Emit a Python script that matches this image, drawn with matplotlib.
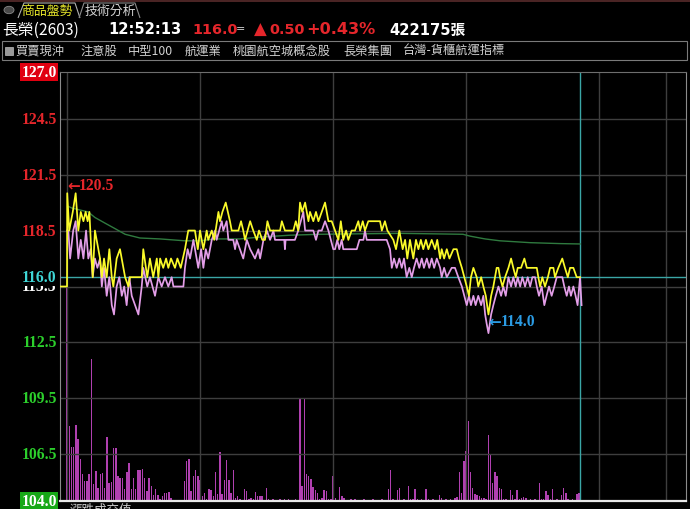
import matplotlib.pyplot as plt
from matplotlib.patches import Rectangle, Polygon, Circle

W, H = 690, 510

# intraday minute data, t = minutes after 09:00
hi_t = [-3.2, 0.0, 0.1, 1.0, 2.6, 3.9, 5.1, 6.2, 7.4, 8.4, 9.3, 10.1, 11.1, 11.6, 12.6, 14.1,
        14.9, 15.7, 16.7, 17.9, 19.1, 20.2, 20.9, 22.4, 23.9, 25.4, 26.2, 27.7, 28.4, 33.7,
        34.4, 36.2, 37.4, 38.9, 40.5, 41.2, 42.0, 43.4, 44.7, 45.7, 46.9, 48.7, 49.8, 51.3,
        53.2, 54.7, 57.7, 59.0, 60.0, 61.5, 63.0, 63.7, 65.3, 66.4, 68.3, 69.0, 70.1, 71.6,
        73.5, 74.3, 77.3, 78.5, 79.5, 80.3, 82.6, 84.0, 85.6, 86.6, 88.1, 89.3, 90.4, 91.6,
        96.1, 96.9, 98.3, 102.1, 103.2, 104.3, 105.1, 106.1, 107.4, 108.9, 109.6, 111.1,
        112.3, 113.4, 114.9, 116.4, 117.9, 119.4, 122.4, 123.5, 124.6, 125.9, 126.9, 128.4,
        129.9, 131.4, 132.2, 133.4, 134.4, 135.9, 141.2, 142.0, 143.4, 144.5, 147.2, 148.4,
        149.9, 151.4, 152.5, 153.5, 154.7, 156.2, 157.4, 158.5, 159.6, 160.7, 161.9, 163.0,
        164.5, 166.0, 167.0, 168.3, 169.0, 170.1, 171.3, 172.5, 174.3, 175.8, 176.8, 178.1,
        179.2, 180.3, 181.3, 182.2, 183.3, 184.8, 185.5, 186.8, 187.8, 188.9, 190.1, 191.3,
        192.3, 193.8, 194.6, 195.3, 196.4, 197.6, 199.1, 200.3, 201.3, 202.4, 203.3, 204.8,
        206.3, 207.4, 211.9, 212.6, 213.4, 214.4, 215.6, 216.9, 217.9, 219.4, 220.1, 221.6,
        223.4, 224.6, 225.9, 226.9, 228.4, 229.9, 231.4]
hi_p = [115.5, 115.5, 120.5, 118.5, 119.5, 120.5, 118.5, 119.5, 119.0, 119.5, 119.0, 119.5, 117.0, 116.0, 118.5, 117.5,
        117.0, 116.0, 117.0, 116.0, 117.5, 116.0, 115.5, 117.0, 117.5, 116.5, 116.0, 115.5, 116.0, 116.0,
        117.5, 116.0, 117.0, 116.0, 117.0, 116.0, 117.0, 116.5, 117.0, 116.5, 117.0, 116.5, 117.0, 116.5,
        117.5, 118.5, 118.5, 117.5, 118.5, 117.5, 118.5, 118.0, 118.5, 118.0, 119.5, 119.0, 119.5, 120.0,
        119.0, 118.5, 118.5, 119.0, 118.5, 118.0, 119.0, 118.5, 118.0, 118.5, 118.0, 118.0, 119.0, 118.5,
        118.5, 119.0, 118.5, 118.5, 119.0, 118.5, 120.0, 119.5, 120.0, 119.0, 119.5, 119.0,
        119.5, 119.0, 119.5, 120.0, 119.0, 119.0, 118.0, 119.0, 118.0, 118.5, 118.0, 118.5,
        118.5, 119.0, 118.5, 119.0, 118.5, 119.0, 119.0, 118.5, 119.0, 118.5, 118.0, 117.5,
        118.5, 117.5, 118.0, 117.0, 118.0, 117.0, 118.0, 117.5, 118.0, 117.5, 118.0, 117.5,
        118.0, 117.5, 118.0, 117.0, 117.5, 117.0, 117.5, 117.0, 117.5, 117.5, 117.0, 116.5,
        116.0, 115.5, 115.0, 116.0, 116.5, 116.0, 115.5, 116.0, 115.5, 115.0, 114.0, 115.0,
        115.5, 116.5, 116.5, 116.0, 115.5, 116.0, 116.5, 117.0, 116.5, 116.0, 116.5, 116.5,
        117.0, 116.5, 116.5, 116.0, 115.5, 116.0, 115.5, 116.0, 116.5, 116.5, 116.0, 116.5,
        117.0, 116.5, 116.0, 116.5, 116.5, 116.0, 116.0]

lo_t = [0.1, 0.6, 1.4, 2.8, 3.9, 5.1, 6.2, 7.4, 8.6, 9.6, 10.7, 11.6, 12.6, 13.7, 14.9, 15.7,
        16.7, 17.9, 19.1, 20.2, 21.2, 22.4, 23.6, 24.7, 25.8, 26.9, 28.1, 29.2, 30.7, 32.2,
        33.7, 34.4, 36.2, 37.4, 39.7, 41.2, 42.7, 44.2, 45.7, 47.2, 48.0, 52.5, 53.2, 54.4,
        55.5, 57.0, 58.5, 59.2, 60.5, 61.5, 62.6, 63.7, 65.3, 66.8, 67.5, 69.8, 70.5, 72.0,
        72.8, 75.0, 75.8, 76.5, 78.0, 79.5, 81.1, 82.6, 84.8, 86.3, 87.1, 88.6, 90.1, 91.6,
        93.1, 93.8, 98.0, 98.3, 98.6, 102.8, 104.3, 106.6, 107.4, 109.6, 111.1, 112.3, 113.4,
        114.9, 116.4, 117.9, 119.0, 120.1, 120.9, 121.9, 122.8, 123.9, 124.6, 130.7, 131.9,
        133.7, 134.4, 135.2, 144.2, 145.7, 146.5, 147.5, 148.7, 149.9, 151.0, 152.0, 153.2,
        154.4, 155.5, 156.5, 157.7, 158.9, 160.0, 161.0, 162.3, 163.4, 164.5, 165.6, 166.8,
        168.3, 169.0, 170.1, 171.3, 173.5, 175.0, 176.5, 178.1, 179.2, 180.3, 181.3, 182.2,
        183.3, 184.3, 185.5, 186.8, 187.8, 188.6, 189.3, 190.1, 191.3, 192.3, 193.4, 194.6,
        195.8, 196.8, 197.9, 199.1, 200.3, 201.3, 202.4, 203.3, 204.4, 205.4, 206.6, 207.8,
        208.9, 209.9, 211.1, 211.9, 212.9, 214.1, 215.3, 216.3, 217.4, 218.6, 219.8, 220.9,
        223.4, 224.3, 225.4, 226.4, 227.3, 228.4, 229.4, 230.3, 231.4, 232.1]
lo_p = [118.5, 118.5, 117.0, 118.5, 119.0, 117.0, 118.0, 117.0, 118.5, 117.0, 117.5, 116.0, 117.0, 116.5, 117.0, 115.5,
        116.5, 115.0, 116.0, 114.5, 114.0, 115.5, 116.0, 115.0, 115.5, 114.5, 116.0, 115.0, 114.5, 114.0,
        115.5, 116.5, 115.5, 116.0, 115.0, 116.0, 115.5, 116.0, 115.5, 116.0, 115.5, 115.5, 116.5, 117.5,
        117.0, 118.0, 117.0, 116.5, 117.5, 116.5, 117.5, 117.0, 118.0, 118.5, 118.0, 119.0, 118.5, 119.0,
        118.0, 118.0, 117.5, 118.0, 117.5, 117.0, 118.0, 117.5, 117.0, 117.5, 117.0, 118.0, 118.5, 118.0,
        118.5, 118.0, 118.0, 117.5, 118.0, 118.0, 118.5, 119.5, 118.5, 118.5, 118.5, 118.0, 118.5,
        118.5, 119.0, 118.5, 118.0, 117.5, 117.5, 118.0, 117.5, 118.0, 117.5, 117.5, 118.0,
        118.0, 118.5, 118.0, 118.0, 117.5, 116.5, 117.0, 116.5, 117.0, 116.5, 117.0, 116.0,
        116.5, 116.0, 116.5, 117.0, 116.5, 117.0, 116.5, 117.0, 116.5, 117.0, 116.5, 117.0,
        116.5, 116.0, 116.5, 116.0, 116.5, 116.5, 116.0, 115.5, 115.0, 114.5, 115.0, 114.5,
        115.0, 114.5, 115.0, 114.5, 115.0, 114.0, 113.5, 113.0, 114.0, 114.5, 115.0, 115.5,
        115.0, 115.5, 115.0, 116.0, 115.5, 116.0, 115.5, 116.0, 115.5, 116.0, 115.5, 116.0,
        115.5, 116.0, 116.0, 115.5, 115.0, 115.5, 114.5, 115.0, 115.5, 115.0, 115.5, 116.0,
        116.0, 115.5, 115.0, 115.5, 115.0, 115.5, 115.0, 114.5, 116.0, 114.5]

avg_t = [0.5, 2.3, 5.9, 9.5, 12.6, 17.1, 21.7, 26.2, 32.9, 42.0, 53.2, 60.0, 66.8, 78.0,
         87.1, 100.6, 114.1, 150.2, 178.6, 181.8, 188.6, 195.3, 208.9, 222.4, 231.4]
avg_p = [119.8, 119.7, 119.6, 119.5, 119.2, 118.9, 118.6, 118.3, 118.1, 118.05, 117.95, 117.95,
         118.05, 118.05, 118.15, 118.25, 118.3, 118.35, 118.3, 118.2, 118.05, 117.95, 117.85,
         117.8, 117.78]

# per-minute volume (relative units), minute 0 .. 231
vol_v = [215, 75, 54, 54, 76, 62, 42, 27, 20, 20,
         27, 142, 17, 30, 13, 27, 28, 13, 64, 18,
         19, 53, 53, 25, 23, 23, 12, 29, 38, 12,
         23, 12, 31, 31, 32, 23, 10, 23, 15, 6,
         12, 6, 2, 5, 8, 8, 9, 3, 1, 1,
         1, 1, 1, 20, 40, 42, 10, 25, 31, 25,
         21, 5, 8, 2, 12, 11, 5, 29, 7, 49,
         7, 21, 41, 21, 8, 31, 3, 5, 2, 1,
         12, 10, 2, 3, 2, 9, 5, 5, 5, 1,
         13, 2, 1, 2, 1, 1, 2, 1, 2, 1,
         2, 1, 1, 2, 1, 103, 15, 103, 27, 25,
         22, 14, 11, 8, 2, 3, 11, 10, 2, 2,
         25, 3, 1, 14, 5, 3, 1, 1, 2, 1,
         2, 1, 1, 1, 2, 1, 1, 1, 2, 1,
         1, 1, 2, 1, 1, 12, 31, 2, 1, 11,
         13, 1, 2, 1, 15, 2, 2, 12, 2, 1,
         2, 1, 12, 2, 1, 2, 1, 1, 6, 3,
         1, 2, 1, 2, 1, 3, 4, 29, 8, 40,
         50, 80, 29, 13, 7, 6, 5, 3, 3, 2,
         66, 47, 18, 29, 25, 13, 12, 2, 2, 1,
         11, 6, 2, 11, 2, 3, 4, 3, 1, 2,
         1, 2, 1, 18, 2, 2, 10, 6, 2, 12,
         1, 2, 1, 6, 13, 8, 2, 1, 2, 1,
         7, 8]
vol_t = list(range(len(vol_v)))

grid_prices = [124.5, 121.5, 118.5, 115.5, 112.5, 109.5, 106.5]
grid_minutes = [0, 60, 120, 180, 240, 270]
ref_price = 116.0
now_minute = 231.4
high_t = 0.0
low_t = 190.0

y_labels = ['127.0', '124.5', '121.5', '118.5', '115.5', '116.0', '112.5', '109.5', '106.5', '104.0']
y_label_vals = [127.0, 124.5, 121.5, 118.5, 115.5, 116.0, 112.5, 109.5, 106.5, 104.0]
y_label_cols = ['white', '#e5262b', '#e5262b', '#e5262b', 'white', '#3fd6d6',
                '#2ccf2c', '#2ccf2c', '#2ccf2c', 'white']

tags = ['買賣現沖', '注意股', '中型100', '航運業', '桃園航空城概念股', '長榮集團', '台灣-貨櫃航運指標']
tag_x = [15, 80, 128, 185, 233, 343, 403]

RED = '#e5262b'
CJK = ['Noto Sans CJK TC', 'DejaVu Sans']
SERIF = ['Liberation Serif', 'DejaVu Serif']


def fx(x):
    return x / W


def fy(y):
    return 1 - y / H


fig = plt.figure(figsize=(W / 100, H / 100), dpi=100, facecolor='black')

rect = [fx(60), fy(502), (686 - 60) / W, (502 - 73) / H]
axv = fig.add_axes(rect)
ax = fig.add_axes(rect)
ax.patch.set_visible(False)
axv.set_facecolor('black')

xlim = (-3.16, 279.2)
axv.set_xlim(*xlim)
axv.set_ylim(0, 429)
axv.axis('off')
axv.bar(vol_t, vol_v, width=0.65, color='#b040b0', linewidth=0)

ax.set_xlim(*xlim)
ax.set_ylim(104, 127)
ax.set_xticks([])
ax.set_yticks([])
for p in grid_prices:
    ax.axhline(p, color='#3e3e3e', lw=1, zorder=1)
for m in grid_minutes:
    ax.axvline(m, color='#3e3e3e', lw=1, zorder=1)
ax.axhline(ref_price, color='#3aa6a6', lw=1, zorder=1)
ax.axvline(now_minute, color='#3aa6a6', lw=1, zorder=1)
ax.spines['left'].set_color('#8c8c8c')
ax.spines['right'].set_color('#8c8c8c')
ax.spines['top'].set_color('#6e6e6e')
ax.spines['bottom'].set_color('#e6e6e6')
ax.spines['bottom'].set_linewidth(1.6)

ax.plot(avg_t, avg_p, color='#2f7a3f', lw=1.0, zorder=3)
ax.plot(lo_t, lo_p, color='#e39ee8', lw=1.25, zorder=4)
ax.plot(hi_t, hi_p, color='#fafa2a', lw=1.25, zorder=5)

ytf = ax.get_yaxis_transform()
for lab, v, c in zip(y_labels, y_label_vals, y_label_cols):
    kw = {}
    if lab == '127.0':
        kw['bbox'] = dict(facecolor='#e00010', edgecolor='none', pad=0.8)
    elif lab == '104.0':
        kw['bbox'] = dict(facecolor='#17a817', edgecolor='none', pad=0.8)
    elif lab == '116.0':
        kw['bbox'] = dict(facecolor='black', edgecolor='none', pad=0.3)
    ax.text(-0.005, v, lab, transform=ytf, ha='right', va='center', color=c,
            fontsize=11.3, fontweight='bold', family=SERIF, clip_on=False, **kw)

ax.text(high_t, 120.95, '\u2190', color=RED, fontsize=11, fontweight='bold',
        family='DejaVu Sans', ha='left', va='center', zorder=6)
ax.text(high_t + 5.5, 120.95, '120.5', color=RED, fontsize=11.3, fontweight='bold',
        family=SERIF, ha='left', va='center', zorder=6)
ax.text(low_t, 113.65, '\u2190', color='#2b9be3', fontsize=11, fontweight='bold',
        family='DejaVu Sans', ha='left', va='center', zorder=6)
ax.text(low_t + 5.5, 113.65, '114.0', color='#2b9be3', fontsize=11.3, fontweight='bold',
        family=SERIF, ha='left', va='center', zorder=6)

# header: tabs
fig.patches.append(Rectangle((0, fy(2.5)), 1, 2.5 / H, transform=fig.transFigure,
                             facecolor='#4a2424', edgecolor='none'))
fig.patches.append(Circle((fx(9), fy(11)), 5 / W, transform=fig.transFigure,
                          facecolor='#4a4a4a', edgecolor='#8a8a8a', lw=0.6))
fig.patches.append(Polygon([(fx(18), fy(19)), (fx(24), fy(4)), (fx(75), fy(4)), (fx(80), fy(19))],
                           closed=False, transform=fig.transFigure, fill=False,
                           edgecolor='#b0b0b0', lw=0.8))
fig.patches.append(Polygon([(fx(79), fy(19)), (fx(84), fy(4)), (fx(135), fy(4)), (fx(140), fy(19))],
                           closed=False, transform=fig.transFigure, fill=False,
                           edgecolor='#8a8a8a', lw=0.8))
fig.text(fx(47), fy(11.5), '商品盤勢', color='#e6e62a', fontsize=9.3, family=CJK, ha='center', va='center')
fig.text(fx(110), fy(11.5), '技術分析', color='#d5d5d5', fontsize=9.3, family=CJK, ha='center', va='center')

# header: quote line
fig.text(fx(2), fy(30), '長榮(2603)', color='white', fontsize=11.3, family=CJK, ha='left', va='center')
fig.text(fx(108), fy(30), '12:52:13', color='white', fontsize=10.6, fontweight='bold',
         family='DejaVu Sans', ha='left', va='center')
fig.text(fx(192), fy(30), '116.0', color=RED, fontsize=10.4, fontweight='bold',
         family='DejaVu Sans', ha='left', va='center')
fig.text(fx(236), fy(29), '=', color='#dddddd', fontsize=8, family='DejaVu Sans', ha='left', va='center')
fig.text(fx(254), fy(30), '\u25b2', color=RED, fontsize=12, fontweight='bold',
         family='DejaVu Sans', ha='left', va='center')
fig.text(fx(269), fy(30), '0.50', color=RED, fontsize=10.4, fontweight='bold',
         family='DejaVu Sans', ha='left', va='center')
fig.text(fx(306), fy(30), '+0.43%', color=RED, fontsize=11.6, fontweight='bold',
         family='DejaVu Sans', ha='left', va='center')
fig.text(fx(389), fy(30), '422175張', color='white', fontsize=10.6, fontweight='bold',
         family=['DejaVu Sans', 'Noto Sans CJK TC'], ha='left', va='center')

# header: tag bar
fig.patches.append(Rectangle((fx(2), fy(61)), (687 - 2) / W, 19 / H, transform=fig.transFigure,
                             facecolor='none', edgecolor='#7a7a7a', lw=0.8))
fig.patches.append(Rectangle((fx(5), fy(56)), 8 / W, 8 / H, transform=fig.transFigure,
                             facecolor='#9a9a9a', edgecolor='#bdbdbd', lw=0.5))
for s, x in zip(tags, tag_x):
    fig.text(fx(x), fy(51.5), s, color='#d2d2d2', fontsize=8.8, family=CJK, ha='left', va='center')

fig.text(fx(70), fy(504), '漲跌成交值', color='#cfcfcf', fontsize=9, family=CJK, ha='left', va='top')

fig.savefig('out.png', dpi=100, facecolor='black')
